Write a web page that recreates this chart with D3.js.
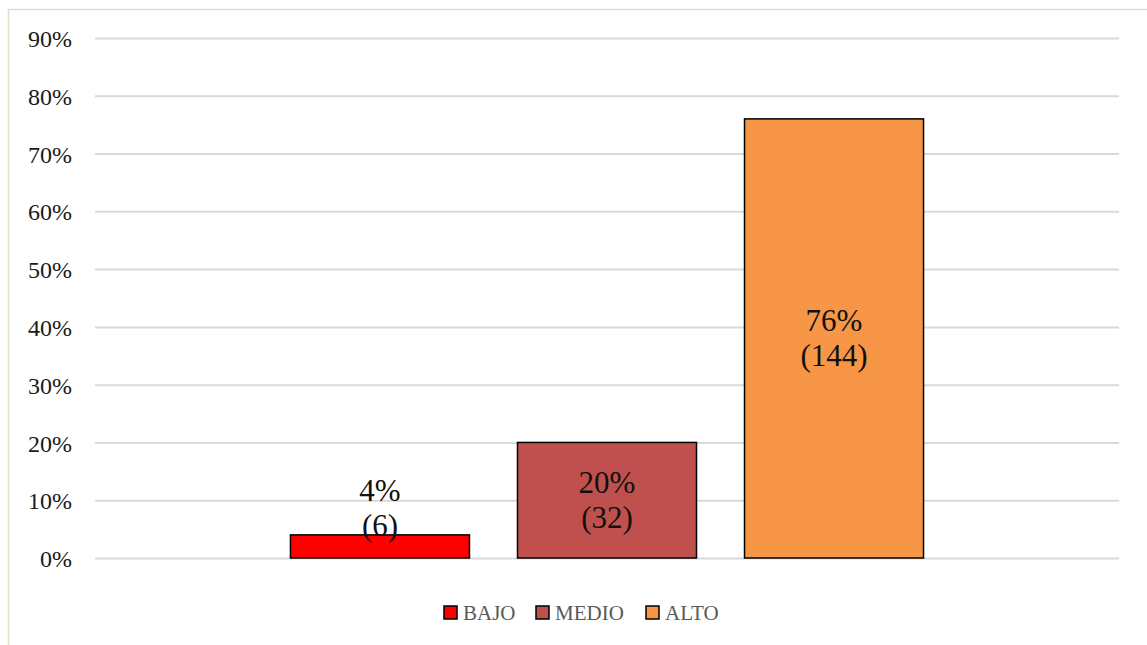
<!DOCTYPE html>
<html>
<head>
<meta charset="utf-8">
<script src="https://cdn.jsdelivr.net/npm/d3@7"></script>
<style>
  html, body { margin: 0; padding: 0; background: #fff; }
  svg { display: block; }
</style>
</head>
<body>
<svg id="chart" width="1147" height="645"></svg>
<script>
// Nivel por categoría: porcentaje y frecuencia
const niveles = ["BAJO", "MEDIO", "ALTO"];
const porcentajes = [4, 20, 76];
const frecuencias = [6, 32, 144];
const colores = ["#ff0000", "#c0504d", "#f79646"];
const ticksY = [0, 10, 20, 30, 40, 50, 60, 70, 80, 90];

const W = 1147, H = 645;
const margin = { left: 95, right: 28, top: 38, bottom: 87 };
const FONT = "'Liberation Serif', 'DejaVu Serif', serif";

const svg = d3.select("#chart");

// chart area frame
svg.append("rect")
  .attr("x", 8.5).attr("y", 9.5)
  .attr("width", W + 10).attr("height", H + 10)
  .attr("fill", "#fff")
  .attr("stroke", "#e3dfcd")
  .attr("stroke-width", 1.5);

const y = d3.scaleLinear().domain([0, 90]).range([H - margin.bottom, margin.top]);
const x = d3.scaleBand()
  .domain(niveles)
  .range([margin.left, W - margin.right])
  .paddingInner(0.2115)
  .paddingOuter(0.861);

// gridlines + tick labels
const yAxis = d3.axisLeft(y)
  .tickValues(ticksY)
  .tickSize(-(W - margin.left - margin.right))
  .tickPadding(23)
  .tickFormat(d => d + "%");

const gAxis = svg.append("g")
  .attr("transform", `translate(${margin.left},0)`)
  .call(yAxis);
gAxis.select(".domain").remove();
gAxis.selectAll(".tick line").attr("stroke", "#d9d9d9").attr("stroke-width", 2);
gAxis.selectAll(".tick text")
  .attr("fill", "#1a1a1a")
  .attr("dy", "0.36em")
  .style("font-family", FONT)
  .style("font-size", "24px");

// bars
const datos = niveles.map((n, i) => ({ n, p: porcentajes[i], f: frecuencias[i], c: colores[i] }));

svg.append("g").selectAll("rect")
  .data(datos)
  .join("rect")
  .attr("x", d => x(d.n))
  .attr("y", d => y(d.p))
  .attr("width", x.bandwidth())
  .attr("height", d => y(0) - y(d.p))
  .attr("fill", d => d.c)
  .attr("stroke", "#000")
  .attr("stroke-width", 1.5);

// value labels (percentage over frequency)
const labels = svg.append("g").selectAll("text")
  .data(datos)
  .join("text")
  .attr("text-anchor", "middle")
  .attr("fill", "#111")
  .style("font-family", FONT)
  .style("font-size", "31px")
  .attr("transform", d => {
    const mid = Math.min((y(d.p) + y(0)) / 2, y(0) - 50);
    return `translate(${x(d.n) + x.bandwidth() / 2},${mid})`;
  });
labels.append("tspan").attr("x", 0).attr("y", -7).text(d => d.p + "%");
labels.append("tspan").attr("x", 0).attr("y", 28).text(d => "(" + d.f + ")");

// legend
const legendY = 612.5;
const legendItems = [
  { n: niveles[0], c: colores[0], x: 444 },
  { n: niveles[1], c: colores[1], x: 536 },
  { n: niveles[2], c: colores[2], x: 646 }
];
const lg = svg.append("g").selectAll("g")
  .data(legendItems)
  .join("g")
  .attr("transform", d => `translate(${d.x},${legendY})`);
lg.append("rect")
  .attr("x", 0).attr("y", -6.5)
  .attr("width", 13).attr("height", 13)
  .attr("fill", d => d.c)
  .attr("stroke", "#000")
  .attr("stroke-width", 1.5);
lg.append("text")
  .attr("x", 19).attr("y", 7)
  .attr("fill", "#595959")
  .style("font-family", FONT)
  .style("font-size", "21px")
  .text(d => d.n);
</script>
</body>
</html>
